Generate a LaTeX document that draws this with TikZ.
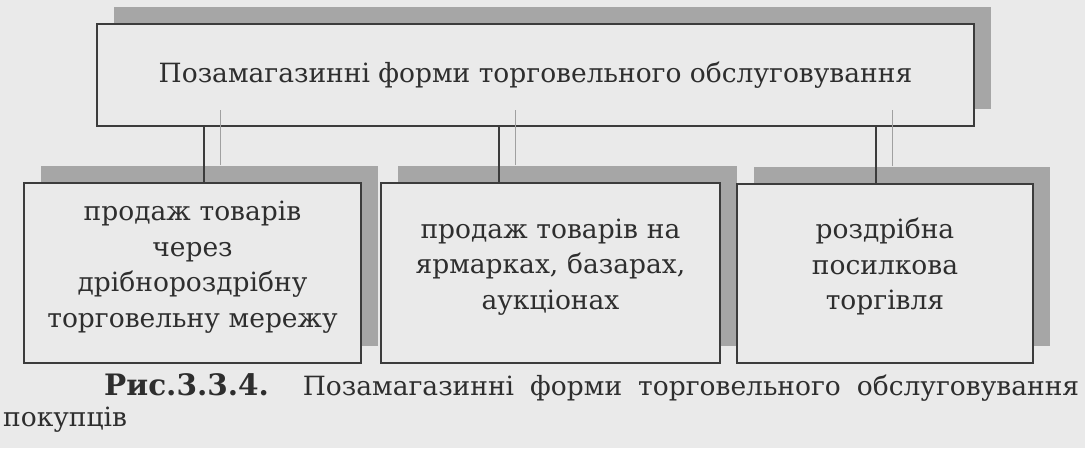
\documentclass[tikz,border=0pt]{standalone}
\usepackage{fontspec}
\setmainfont{DejaVu Serif}
\usetikzlibrary{shadows,calc}
\definecolor{paper}{HTML}{EAEAEA}
\definecolor{ink}{HTML}{2E2E2E}
\definecolor{frame}{HTML}{3C3C3C}
\definecolor{shade}{HTML}{A6A6A6}
\definecolor{ghost}{HTML}{A0A0A0}
\newcommand{\topfont}{\fontsize{26.5}{36}\selectfont}
\newcommand{\boxfont}{\fontsize{26.5}{35.5}\selectfont}
\newcommand{\capfont}{\fontsize{26.5}{31}\selectfont}
\begin{document}
\begin{tikzpicture}[x=1pt,y=-1pt,
  panel/.style={draw=frame, line width=1.6pt, fill=paper, inner sep=0pt,
    text=ink, align=center, font=\boxfont,
    drop shadow={shadow xshift=17pt, shadow yshift=17pt, fill=shade, opacity=1}},
  paneltext/.style={text=ink, align=center, font=\boxfont, inner sep=0pt, yshift=6pt},
  conn/.style={draw=frame, line width=1.4pt},
  connshade/.style={draw=ghost, line width=0.8pt}]
\fill[paper] (0,0) rectangle (1085,448);
\useasboundingbox (0,0) rectangle (1085,448);
\node[panel, font=\topfont, minimum width=877pt, minimum height=102pt] (top) at (535.5,75)
  {\raisebox{2pt}{Позамагазинні форми торговельного обслуговування}};
\node[panel, minimum width=337pt, minimum height=180pt,
  label={[paneltext, text width=335pt]center:продаж товарів\\через\\дрібнороздрібну\\торговельну мережу}] (left) at (192.5,273) {};
\node[panel, minimum width=339pt, minimum height=180pt,
  label={[paneltext, text width=335pt]center:продаж товарів на\\ярмарках, базарах,\\аукціонах}] (mid) at (550.5,273) {};
\node[panel, minimum width=296pt, minimum height=179pt,
  label={[paneltext, text width=292pt, yshift=1pt]center:роздрібна\\посилкова\\торгівля}] (right) at (885,273.5) {};
% connectors
\draw[conn] ($(left.north)+(11.5,0)$) -- ($(left.north |- top.south)+(11.5,0)$);
\draw[conn] ($(mid.north)+(-51.5,0)$) -- ($(mid.north |- top.south)+(-51.5,0)$);
\draw[conn] ($(right.north)+(-9,0)$) -- ($(right.north |- top.south)+(-9,0)$);
% connector shadows
\draw[connshade] ($(left.north)+(28,-17)$) -- ($(left.north |- top.south)+(28,-17)$);
\draw[connshade] ($(mid.north)+(-35,-17)$) -- ($(mid.north |- top.south)+(-35,-17)$);
\draw[connshade] ($(right.north)+(7,-17)$) -- ($(right.north |- top.south)+(7,-17)$);
% caption
\node[anchor=base west, text width=1076pt, align=justify, inner sep=0pt, text=ink, font=\capfont] (cap) at (3,395)
  {\hspace*{101pt}{\fontsize{29.5}{31}\selectfont\bfseries Рис.3.3.4.} Позамагазинні форми торговельного обслуговування\linebreak покупців};
\end{tikzpicture}
\end{document}
